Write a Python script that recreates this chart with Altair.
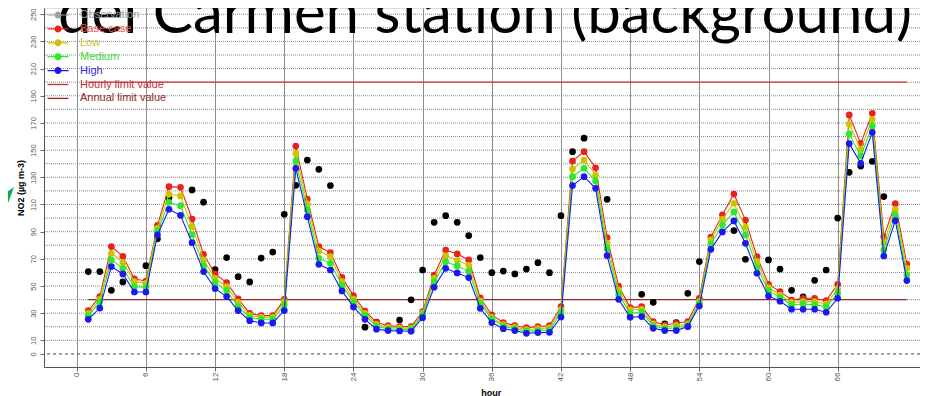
import altair as alt
import pandas as pd

# ---------------- data ----------------
HOURS = list(range(1, 73))
BASE = [31.9, 42.2, 79.0, 71.9, 55.2, 53.7, 94.7, 123.1, 122.6, 99.3,
        73.3, 58.9, 52.5, 40.5, 29.9, 28.2, 28.2, 40.2, 153.0, 114.0,
        79.0, 74.6, 56.4, 42.9, 31.6, 23.3, 20.8, 20.1, 20.1, 31.2,
        58.1, 76.5, 73.6, 69.2, 41.2, 28.7, 23.1, 20.8, 19.4, 20.1,
        20.8, 34.8, 142.0, 148.9, 137.0, 85.7, 50.0, 34.1, 34.8, 23.8,
        21.3, 22.6, 23.8, 41.0, 86.0, 102.4, 117.7, 98.5, 71.6, 51.3,
        45.9, 39.7, 41.0, 41.0, 39.2, 51.3, 175.9, 155.0, 177.1, 86.3, 110.6, 66.2]
LOW = [29.9, 40.2, 74.1, 67.5, 53.2, 52.0, 92.5, 117.5, 116.3, 93.7,
       69.2, 55.7, 49.5, 38.0, 28.5, 27.0, 27.0, 38.5, 147.7, 110.4,
       75.8, 71.6, 53.2, 40.2, 29.9, 21.8, 19.6, 19.0, 19.0, 30.0,
       55.7, 72.4, 68.9, 65.2, 38.9, 27.0, 21.6, 19.6, 18.0, 18.6,
       19.2, 32.6, 136.1, 142.7, 131.7, 81.5, 46.9, 32.4, 32.9, 22.1,
       19.9, 20.9, 22.1, 38.5, 83.9, 99.1, 110.9, 93.2, 67.9, 48.9,
       43.4, 37.9, 38.5, 38.5, 36.8, 47.8, 169.2, 150.6, 172.7, 81.5, 106.5, 63.0]
MEDIUM = [28.0, 38.3, 69.2, 63.0, 49.5, 49.0, 90.5, 111.6, 109.1, 87.8,
          65.0, 52.5, 46.6, 34.8, 27.0, 25.5, 25.5, 36.0, 142.0, 106.0,
          70.4, 66.7, 50.5, 38.0, 28.5, 20.3, 18.5, 18.0, 17.9, 28.7,
          53.2, 67.9, 64.8, 60.8, 36.8, 26.0, 20.3, 18.5, 16.8, 17.2,
          17.6, 30.4, 130.5, 136.6, 127.3, 77.3, 43.9, 29.9, 30.9, 20.6,
          18.7, 19.1, 21.2, 37.3, 80.9, 94.9, 104.5, 87.6, 63.8, 46.6,
          41.7, 36.1, 36.8, 36.1, 34.8, 44.6, 161.9, 145.7, 167.8, 76.5, 102.5, 58.1]
HIGH = [25.5, 33.8, 64.3, 58.9, 45.6, 45.6, 87.6, 106.5, 102.0, 81.9,
        60.6, 48.1, 42.2, 31.9, 24.5, 22.8, 22.8, 31.9, 136.6, 101.0,
        66.0, 61.8, 46.4, 34.6, 25.5, 18.2, 17.2, 16.9, 16.7, 26.7,
        49.1, 63.0, 59.6, 56.2, 33.6, 23.1, 18.6, 17.2, 15.2, 15.7,
        15.9, 27.2, 123.9, 130.5, 121.9, 72.4, 40.2, 27.0, 27.5, 18.9,
        17.2, 17.2, 20.1, 35.3, 77.0, 89.8, 97.9, 81.4, 59.4, 42.7,
        38.8, 32.9, 32.9, 32.9, 30.7, 41.0, 154.8, 140.3, 163.1, 72.1, 98.1, 54.0]
OBS = [60.6, 60.6, 46.8, 53.0, None, 65.0, 84.7, 115.0, None, 120.7,
       111.7, 62.1, 70.9, 56.9, 53.0, 70.6, 75.0, 102.8, 124.1, 142.7,
       135.9, 123.9, None, None, 19.7, 23.5, None, 25.0, 39.8, 61.8,
       96.9, 101.8, 96.9, 87.1, 70.9, 59.8, 61.0, 58.9, 62.5, 67.2,
       59.8, 101.8, 148.9, 158.8, None, 113.8, None, None, 43.9, 38.0,
       22.1, 23.1, 44.6, 68.0, None, None, 90.8, 69.7, None, 69.2,
       62.5, 46.8, 42.0, 54.2, 61.8, 100.0, 133.7, 138.3, 141.8, 115.8, None, None]

SERIES = ["Base case", "Low", "Medium", "High"]
LEGEND_NAMES = ["Observation", "Base case", "Low", "Medium", "High",
                "Hourly limit value", "Annual limit value"]
LIMIT_NAMES = ["Hourly limit value", "Annual limit value"]
LIMIT_VALUES = [200, 40]
GRID_Y = list(range(10, 260, 10))
X_TICKS = list(range(0, 67, 6))
Y_LABELS = [0] + list(range(10, 251, 20))
TITLE = "del Carmen station (background)"

COLORS = ["#a0a0a0", "#e8231c", "#cdc400", "#2ee82e", "#1a1af0", "#c83030", "#962a2a"]
LABEL_COLORS = ["#a0a0a0", "#e65555", "#c8c020", "#40d840", "#3030d8", "#c03030", "#902828"]
COLOR_OF = dict(zip(LEGEND_NAMES, COLORS))

# legend glyphs: a thin bar with a dot (series) or a thin bar alone (limit lines)
PT_PATH = "M-2.1,-0.12H2.1V0.12H-2.1ZM-0.7,0A0.7,0.7,0,1,1,0.7,0A0.7,0.7,0,1,1,-0.7,0Z"
LN_PATH = "M-2.1,-0.13H2.1V0.13H-2.1Z"

FONT = "Liberation Sans"

# ---------------- frames ----------------
vals = {"Base case": BASE, "Low": LOW, "Medium": MEDIUM, "High": HIGH}
obs_df = pd.DataFrame({"hour": HOURS, "value": OBS}).dropna()
grid_df = pd.DataFrame({"v": GRID_Y})
zero_df = pd.DataFrame({"v": [0]})
legend_df = pd.DataFrame({"series": LEGEND_NAMES, "hour": [HOURS[0]] * 7, "value": [0] * 7})
title_df = pd.DataFrame({"t": [TITLE]})

# ---------------- scales / axes ----------------
xscale = alt.Scale(domain=[-2.84, 73.14], nice=False, zero=False)
yscale = alt.Scale(domain=[-9.6, 254.6], nice=False, zero=False)
cscale = alt.Scale(domain=LEGEND_NAMES, range=COLORS)
sscale = alt.Scale(domain=LEGEND_NAMES, range=[PT_PATH] * 5 + [LN_PATH] * 2)

xaxis = alt.Axis(values=X_TICKS, title="hour", grid=True, gridColor="#8c8c8c",
                 gridWidth=1, labelAngle=270, labelAlign="right", labelBaseline="middle",
                 labelPadding=1, tickSize=4, tickColor="#666", domainColor="#555",
                 labelColor="#555", labelFontSize=8, labelFont=FONT, labelFlush=False,
                 labelOverlap=False, titleFont=FONT, titleFontSize=9, titleFontWeight="bold",
                 titleX=446.7, titleY=28, titleBaseline="alphabetic", titleAlign="center",
                 titleColor="#000")
yaxis = alt.Axis(values=Y_LABELS, title="NO2 (µg m-3)", grid=False, labelAngle=270,
                 labelAlign="center", labelBaseline="bottom", labelPadding=3, tickSize=4,
                 tickColor="#666", domainColor="#555", labelColor="#555", labelFontSize=7.5,
                 labelFont=FONT, labelFlush=False, labelOverlap=False, titleFont=FONT,
                 titleFontSize=9, titleFontWeight="bold", titleX=-24, titleY=179.5,
                 titleAlign="center", titleBaseline="middle", titleColor="#000")

X = alt.X("hour:Q", scale=xscale, axis=xaxis)
Y = alt.Y("value:Q", scale=yscale, axis=yaxis)

label_expr = " : ".join(
    f"datum.label == '{n}' ? '{c}'" for n, c in zip(LEGEND_NAMES[:-1], LABEL_COLORS[:-1])
) + f" : '{LABEL_COLORS[-1]}'"

legend = alt.Legend(orient="none", legendX=8.5, legendY=1.5, title=None, labelFont=FONT,
                    labelFontSize=11, labelColor=alt.ExprRef(label_expr), symbolSize=100,
                    symbolStrokeWidth=0, rowPadding=1.9, labelOffset=16.5, padding=0,
                    symbolOpacity=1)

# ---------------- layers ----------------
layers = []
layers.append(alt.Chart(grid_df).mark_rule(strokeDash=[1, 1], color="#8a8a8a", strokeWidth=1)
              .encode(y=alt.Y("v:Q", scale=yscale, axis=yaxis)))
layers.append(alt.Chart(zero_df).mark_rule(strokeDash=[3, 3], color="#444", strokeWidth=1)
              .encode(y=alt.Y("v:Q", scale=yscale, axis=yaxis)))
for lname, lval in zip(LIMIT_NAMES, LIMIT_VALUES):
    ldf = pd.DataFrame({"value": [lval], "start": [HOURS[0]], "end": [HOURS[-1]]})
    layers.append(alt.Chart(ldf).mark_rule(strokeWidth=1.3, color=COLOR_OF[lname])
                  .encode(x=alt.X("start:Q", scale=xscale, axis=xaxis), x2="end:Q",
                          y=alt.Y("value:Q", scale=yscale, axis=yaxis)))
layers.append(alt.Chart(legend_df).mark_point(filled=True, opacity=0)
              .encode(x=X, y=Y,
                      color=alt.Color("series:N", scale=cscale, legend=legend),
                      shape=alt.Shape("series:N", scale=sscale, legend=legend)))
layers.append(alt.Chart(obs_df).mark_point(filled=True, size=45, color="black", opacity=1)
              .encode(x=X, y=Y))
for name in SERIES:
    df = pd.DataFrame({"hour": HOURS, "value": vals[name]})
    base = alt.Chart(df).encode(x=X, y=Y)
    layers.append(base.mark_line(strokeWidth=1.1, color=COLOR_OF[name]))
    layers.append(base.mark_point(filled=True, size=45, opacity=1, color=COLOR_OF[name]))

layers.append(alt.Chart(title_df).mark_text(font="Lato", fontSize=60, align="left",
                                            baseline="alphabetic", color="#000")
              .encode(x=alt.value(14), y=alt.value(25), text="t:N"))
layers.append(alt.Chart(title_df).mark_point(shape="M0,0L-14,10L-14,38Z", size=4,
                                             filled=True, color="#00b050", opacity=1)
              .encode(x=alt.value(-30), y=alt.value(179)))

chart = (alt.layer(*layers)
         .properties(width=876, height=359,
                     autosize=alt.AutoSizeParams(type="none"),
                     padding={"left": 36, "top": 0, "right": 0, "bottom": 29})
         .configure_view(stroke=None)
         .configure(background="white"))

chart.save("out.html", embed_options={"renderer": "svg", "actions": False})
